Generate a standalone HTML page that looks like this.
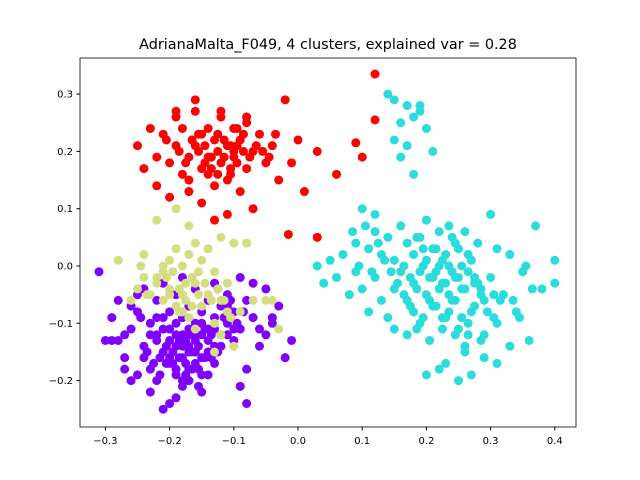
<!DOCTYPE html>
<html><head><meta charset="utf-8"><style>
body{margin:0;background:#fff}
svg{display:block;font-family:"DejaVu Sans","Liberation Sans",sans-serif}
</style></head><body>
<svg id="chart" width="640" height="480" viewBox="0 0 640 480">
<rect width="640" height="480" fill="#fff"/>
<text x="328" y="49" text-anchor="middle" font-size="14.4">AdrianaMalta_F049, 4 clusters, explained var = 0.28</text>
<g id="points"></g>
<g id="axes"></g>
</svg>
<script>
const xTicks=[-0.3,-0.2,-0.1,0.0,0.1,0.2,0.3,0.4];
const yTicks=[-0.2,-0.1,0.0,0.1,0.2,0.3];
const clusterNames=["purple","cyan","yellow","red"];
const clusterColors=["#8000ff","#2adddc","#d4dd80","#ff0000"];
const purpleX=[-0.31,-0.29,-0.28,-0.27,-0.26,-0.25,-0.25,-0.24,-0.24,-0.23,-0.23,-0.22,-0.22,-0.22,-0.21,-0.21,-0.21,-0.20,-0.20,-0.20,-0.20,-0.19,-0.19,-0.19,-0.19,-0.18,-0.18,-0.18,-0.18,-0.18,-0.17,-0.17,-0.17,-0.17,-0.16,-0.16,-0.16,-0.16,-0.15,-0.15,-0.15,-0.14,-0.14,-0.14,-0.13,-0.13,-0.13,-0.12,-0.12,-0.11,-0.11,-0.10,-0.10,-0.09,-0.09,-0.08,-0.08,-0.07,-0.06,-0.05,-0.04,-0.03,-0.02,-0.01,-0.08,-0.09,-0.21,-0.23,-0.26,-0.28,-0.27,-0.19,-0.17,-0.15,-0.12,-0.20,-0.22,-0.16,-0.14,-0.18,-0.24,-0.11,-0.13,-0.07,-0.05,-0.26,-0.29,-0.30,-0.22,-0.17,
 -0.195,-0.185,-0.175,-0.165,-0.155,-0.145,-0.135,-0.125,-0.205,-0.215,-0.19,-0.18,-0.17,-0.16,-0.15,-0.14,-0.13,-0.2,-0.21,-0.23,-0.225,-0.195,-0.175,-0.155,-0.135,-0.115,-0.185,-0.165,-0.145,-0.205,-0.215,-0.235,-0.245,-0.105,-0.095,-0.085,-0.125,-0.175,-0.155,-0.19,-0.17,-0.15,-0.11,-0.1,-0.06,-0.04,-0.25,-0.27];
const purpleY=[-0.01,-0.09,-0.13,-0.16,-0.11,-0.08,-0.19,-0.04,-0.14,-0.10,-0.18,-0.06,-0.12,-0.20,-0.03,-0.11,-0.15,-0.08,-0.13,-0.17,-0.24,-0.05,-0.10,-0.14,-0.19,-0.02,-0.09,-0.12,-0.16,-0.21,-0.07,-0.11,-0.14,-0.18,-0.04,-0.10,-0.13,-0.17,-0.08,-0.12,-0.16,-0.06,-0.11,-0.15,-0.03,-0.09,-0.14,-0.07,-0.12,-0.05,-0.10,-0.08,-0.13,-0.02,-0.11,-0.06,-0.18,-0.09,-0.14,-0.04,-0.10,-0.07,-0.16,-0.13,-0.24,-0.21,-0.25,-0.22,-0.20,-0.06,-0.18,-0.23,-0.20,-0.19,-0.14,-0.16,-0.13,-0.15,-0.19,-0.20,-0.16,-0.12,-0.17,-0.03,-0.12,-0.07,-0.13,-0.13,-0.09,-0.12,
 -0.15,-0.16,-0.13,-0.15,-0.14,-0.16,-0.12,-0.15,-0.14,-0.16,-0.12,-0.14,-0.15,-0.12,-0.10,-0.13,-0.11,-0.11,-0.09,-0.12,-0.17,-0.17,-0.17,-0.18,-0.16,-0.09,-0.13,-0.18,-0.11,-0.17,-0.19,-0.15,-0.09,-0.06,-0.10,-0.08,-0.04,-0.19,-0.21,-0.18,-0.20,-0.22,-0.07,-0.11,-0.11,-0.09,-0.05,-0.12];
const cyanX=[0.03,0.04,0.05,0.06,0.07,0.08,0.09,0.09,0.10,0.10,0.11,0.11,0.12,0.12,0.13,0.13,0.14,0.14,0.15,0.15,0.15,0.16,0.16,0.17,0.17,0.17,0.18,0.18,0.18,0.19,0.19,0.19,0.20,0.20,0.20,0.21,0.21,0.21,0.22,0.22,0.22,0.23,0.23,0.23,0.24,0.24,0.24,0.25,0.25,0.25,0.26,0.26,0.26,0.27,0.27,0.28,0.28,0.29,0.29,0.30,0.30,0.31,0.31,0.32,0.33,0.34,0.35,0.36,0.37,0.38,0.40,0.40,0.14,0.15,0.16,0.17,0.18,0.19,0.20,0.21,0.15,0.17,0.19,0.16,0.18,0.12,0.22,0.27,0.25,0.31,0.20,0.23,0.26,0.29,0.33,
 0.215,0.225,0.235,0.245,0.255,0.265,0.275,0.285,0.205,0.195,0.185,0.175,0.165,0.155,0.145,0.135,0.215,0.225,0.235,0.245,0.255,0.265,0.275,0.195,0.185,0.175,0.165,0.205,0.215,0.225,0.235,0.245,0.255,0.195,0.185,0.265,0.275,0.285,0.295,0.305,0.315,0.125,0.115,0.105,0.095,0.085,0.235,0.245,0.205,0.225,0.265,0.285,0.305,0.335,0.345,0.365,0.355];
const cyanY=[0.0,-0.03,0.01,-0.02,0.02,-0.05,0.04,-0.01,0.10,-0.04,0.03,-0.08,0.06,-0.02,0.02,-0.06,0.05,-0.09,0.01,-0.04,-0.11,0.07,-0.01,0.04,-0.06,-0.12,0.02,-0.03,-0.08,0.05,-0.01,-0.10,0.08,0.01,-0.05,0.03,-0.02,-0.07,0.06,0.0,-0.04,0.02,-0.03,-0.09,0.05,-0.01,-0.06,0.03,-0.02,-0.11,0.06,-0.04,-0.15,0.01,-0.08,0.04,-0.03,-0.06,-0.12,0.09,-0.02,0.03,-0.10,-0.05,0.02,-0.08,-0.01,-0.13,0.07,-0.04,0.01,-0.03,0.30,0.29,0.25,0.28,0.26,0.27,0.24,0.20,0.22,0.21,0.28,0.19,0.16,0.09,-0.18,-0.19,-0.20,-0.17,-0.19,-0.17,-0.14,-0.16,-0.14,
 -0.01,-0.03,0.0,-0.02,-0.04,-0.01,-0.03,-0.05,-0.02,0.0,-0.04,-0.02,0.0,-0.03,-0.01,0.01,0.03,0.01,-0.05,0.04,0.0,0.02,-0.02,0.03,0.05,-0.07,-0.05,-0.06,-0.07,-0.09,-0.08,-0.06,-0.09,-0.09,-0.11,-0.10,-0.07,-0.04,-0.08,-0.05,-0.06,0.04,-0.01,0.07,0.0,0.06,0.07,-0.12,-0.13,-0.11,-0.12,-0.13,-0.09,-0.06,-0.09,-0.04,0.0];
const yellowX=[-0.28,-0.26,-0.25,-0.24,-0.23,-0.22,-0.22,-0.21,-0.21,-0.20,-0.20,-0.19,-0.19,-0.18,-0.18,-0.17,-0.17,-0.16,-0.16,-0.15,-0.15,-0.14,-0.14,-0.13,-0.13,-0.12,-0.12,-0.11,-0.10,-0.10,-0.09,-0.08,-0.07,-0.05,-0.04,-0.03,-0.21,-0.19,-0.17,-0.14,-0.12,-0.11,-0.22,-0.16,-0.18,-0.13,-0.24,-0.20,
 -0.205,-0.185,-0.175,-0.165,-0.145,-0.155,-0.195,-0.175,-0.135,-0.125,-0.165,-0.245,-0.235,-0.115,-0.105,-0.155,-0.185];
const yellowY=[0.01,-0.06,-0.04,0.02,-0.05,0.08,-0.02,0.0,-0.06,0.01,-0.04,0.03,-0.07,0.0,-0.05,0.02,-0.09,0.04,-0.03,0.01,-0.07,0.03,-0.05,-0.01,-0.10,0.05,-0.06,-0.03,0.04,-0.14,-0.08,0.04,-0.06,-0.06,-0.06,-0.11,-0.01,0.10,0.07,0.03,-0.12,-0.08,-0.03,-0.11,-0.08,-0.15,-0.02,-0.05,
 -0.02,-0.04,-0.06,-0.02,-0.03,-0.05,-0.01,-0.03,-0.06,-0.04,-0.07,0.0,-0.05,-0.06,-0.09,-0.01,-0.08];
const redX=[-0.25,-0.24,-0.23,-0.22,-0.22,-0.21,-0.20,-0.20,-0.19,-0.19,-0.18,-0.18,-0.17,-0.17,-0.16,-0.16,-0.15,-0.15,-0.14,-0.14,-0.13,-0.13,-0.12,-0.12,-0.11,-0.11,-0.10,-0.10,-0.09,-0.09,-0.08,-0.08,-0.07,-0.07,-0.06,-0.05,-0.04,-0.03,-0.02,-0.01,0.0,0.01,0.03,0.06,0.09,0.10,0.12,0.12,-0.015,0.03,-0.16,-0.13,-0.11,-0.08,-0.19,-0.15,-0.12,-0.10,-0.14,-0.17,
 -0.125,-0.115,-0.105,-0.095,-0.085,-0.135,-0.145,-0.155,-0.165,-0.175,-0.125,-0.115,-0.105,-0.095,-0.085,-0.075,-0.145,-0.155,-0.135,-0.185,-0.065,-0.055,-0.125,-0.105,-0.095,-0.045,-0.035,-0.205];
const redY=[0.21,0.17,0.24,0.19,0.14,0.23,0.18,0.12,0.26,0.21,0.16,0.24,0.19,0.13,0.27,0.21,0.17,0.11,0.24,0.19,0.14,0.22,0.27,0.18,0.21,0.15,0.24,0.19,0.22,0.13,0.26,0.17,0.20,0.10,0.23,0.18,0.21,0.15,0.29,0.18,0.22,0.13,0.20,0.16,0.215,0.19,0.335,0.255,0.055,0.05,0.29,0.08,0.09,0.25,0.27,0.23,0.26,0.20,0.16,0.15,
 0.20,0.19,0.21,0.18,0.20,0.19,0.21,0.20,0.22,0.18,0.23,0.22,0.17,0.21,0.23,0.19,0.18,0.23,0.17,0.20,0.21,0.20,0.16,0.16,0.24,0.19,0.23,0.22];
const L=80,R=576,T=58,B=427;
const x=v=>298+v*642, y=v=>266-v*573;
const NS='http://www.w3.org/2000/svg';
const pts=document.getElementById('points');
const sets=[[purpleX,purpleY],[cyanX,cyanY],[yellowX,yellowY],[redX,redY]];
sets.forEach((s,k)=>{
 s[0].forEach((xv,i)=>{
  const c=document.createElementNS(NS,'circle');
  c.setAttribute('cx',x(xv));c.setAttribute('cy',y(s[1][i]));c.setAttribute('r',4.5);c.setAttribute('fill',clusterColors[k]);
  
  
  pts.appendChild(c);
 });
});
const ax=document.getElementById('axes');
const fr=document.createElementNS(NS,'rect');
fr.setAttribute('x',L);fr.setAttribute('y',T);fr.setAttribute('width',R-L);fr.setAttribute('height',B-T);fr.setAttribute('fill','none');fr.setAttribute('stroke','#000');fr.setAttribute('stroke-width','0.8');


ax.appendChild(fr);
xTicks.forEach(t=>{
 const l=document.createElementNS(NS,'line');
 l.setAttribute('x1',x(t));l.setAttribute('x2',x(t));l.setAttribute('y1',B);l.setAttribute('y2',B+3.5);l.setAttribute('stroke','#000');
 
 
 ax.appendChild(l);
 const tx=document.createElementNS(NS,'text');
 tx.setAttribute('x',x(t));tx.setAttribute('y',B+17);tx.setAttribute('text-anchor','middle');tx.setAttribute('font-size','10');
 tx.textContent=(t<0?'\u2212':'')+Math.abs(t).toFixed(1);
 
 
 ax.appendChild(tx);
});
yTicks.forEach(t=>{
 const l=document.createElementNS(NS,'line');
 l.setAttribute('x1',L-3.5);l.setAttribute('x2',L);l.setAttribute('y1',y(t));l.setAttribute('y2',y(t));l.setAttribute('stroke','#000');
 
 
 ax.appendChild(l);
 const tx=document.createElementNS(NS,'text');
 tx.setAttribute('x',L-7);tx.setAttribute('y',y(t)+3.5);tx.setAttribute('text-anchor','end');tx.setAttribute('font-size','10');
 tx.textContent=(t<0?'\u2212':'')+Math.abs(t).toFixed(1);
 
 
 ax.appendChild(tx);
});
</script>
</body></html>
